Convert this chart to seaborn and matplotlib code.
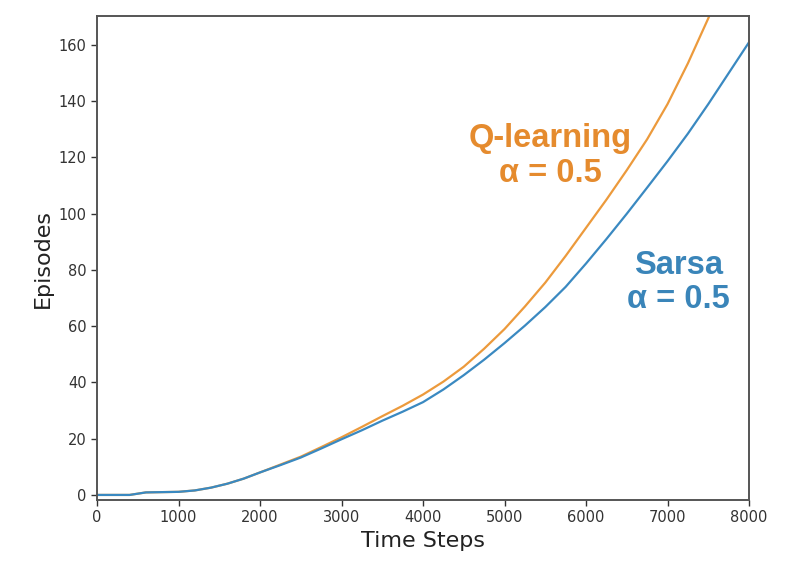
import numpy as np
import pandas as pd
import seaborn as sns
import matplotlib.pyplot as plt

# valores
steps = [0, 400, 600, 1000, 1200, 1400, 1600, 1800, 2000, 2250, 2500, 2750,
         3000, 3250, 3500, 3750, 4000, 4250, 4500, 4750, 5000, 5250, 5500,
         5750, 6000, 6250, 6500, 6750, 7000, 7250, 7500, 7750, 8000]
q_learning = [0, 0, 0.9, 1.1, 1.6, 2.6, 4.0, 5.8, 8.0, 10.8, 13.6, 17.0,
              20.5, 24.2, 28, 31.7, 35.7, 40.3, 45.6, 52, 59, 67, 75.5,
              85, 95, 105, 115.5, 126.5, 139, 153.5, 169.5, 186, 203]
sarsa = [0, 0, 0.9, 1.1, 1.6, 2.6, 4.0, 5.8, 8.0, 10.6, 13.3, 16.5,
         19.8, 23, 26.4, 29.6, 33, 37.5, 42.6, 48.1, 54, 60.2, 66.8,
         74, 82.3, 91, 100, 109.3, 118.7, 128.5, 139, 150, 161]

dados = pd.DataFrame({
    "Time Steps": steps * 2,
    "Episodes": q_learning + sarsa,
    "algoritmo": ["Q-learning"] * len(steps) + ["Sarsa"] * len(steps),
})

laranja = "#ec9a3c"
azul = "#3a89c1"

sns.set_style("white")
plt.rcParams["font.family"] = ["DejaVu Sans"]

fig = plt.figure(figsize=(7.86, 5.85), dpi=100)
ax = fig.add_axes([0.1234, 0.1453, 0.8296, 0.8273])

sns.lineplot(data=dados, x="Time Steps", y="Episodes", hue="algoritmo",
             palette={"Q-learning": laranja, "Sarsa": azul},
             linewidth=1.6, legend=False, ax=ax)

ax.set_xlim(0, 8000)
ax.set_ylim(-1.8, 170.3)
ax.set_xticks(range(0, 8001, 1000))
ax.set_yticks(range(0, 161, 20))
ax.tick_params(axis="both", labelsize=10.5, colors="#333333", length=4,
               width=1, direction="out", bottom=True, left=True)
ax.set_xlabel("Time Steps", fontsize=16, color="#222222")
ax.set_ylabel("Episodes", fontsize=16, color="#222222")

for s in ax.spines.values():
    s.set_color("#555555")
    s.set_linewidth(1.4)

ax.text(5560, 120.5, "Q-learning\nα = 0.5", color="#e58b2e", fontsize=23.5,
        fontweight="bold", ha="center", va="center", linespacing=1.15,
        family=["Liberation Sans", "DejaVu Sans"])
ax.text(7130, 75.5, "Sarsa\nα = 0.5", color="#3a85b9", fontsize=23.5,
        fontweight="bold", ha="center", va="center", linespacing=1.15,
        family=["Liberation Sans", "DejaVu Sans"])

fig.savefig("out.png", dpi=100)
